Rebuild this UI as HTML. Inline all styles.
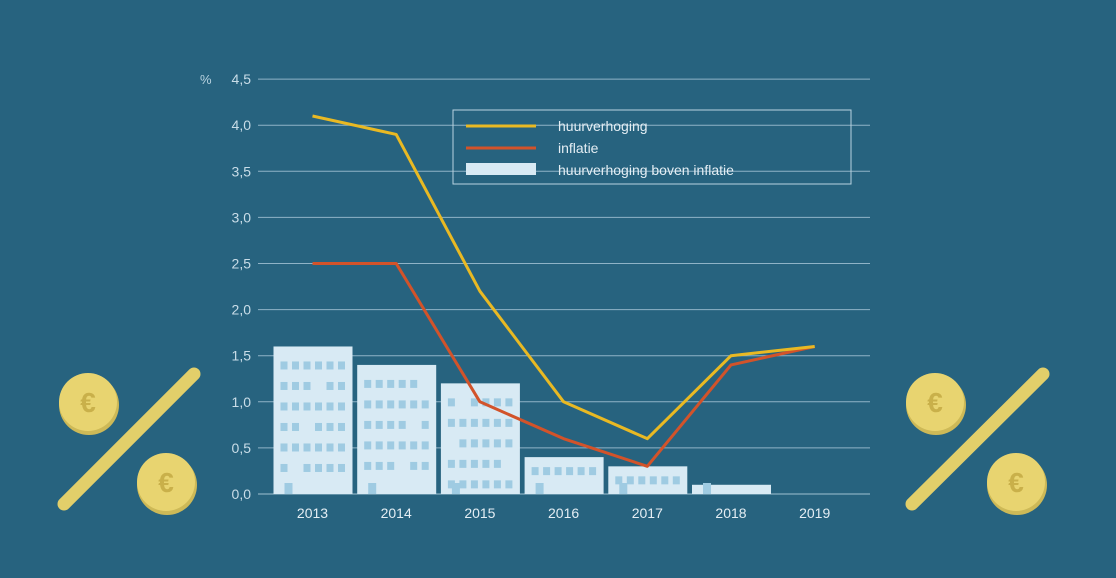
<!DOCTYPE html>
<html><head><meta charset="utf-8"><style>
html,body{margin:0;padding:0;background:#27637f;}
svg{display:block;font-family:"Liberation Sans",sans-serif;}
</style></head><body>
<svg id="chart" width="1116" height="578" viewBox="0 0 1116 578">
<rect width="1116" height="578" fill="#27637f"/>
<g id="grid"></g>
<g id="bars"></g>
<g id="lines"></g>
<g id="axes"></g>
<text x="200" y="84" fill="#b9d3e0" font-size="13">%</text>
<g>
<rect x="453" y="110" width="398" height="74" fill="none" stroke="#b9d3e0" stroke-width="1"/>
<line x1="466" y1="126" x2="536" y2="126" stroke="#e9b923" stroke-width="3"/>
<text x="558" y="131" fill="#e4eef4" font-size="14">huurverhoging</text>
<line x1="466" y1="148" x2="536" y2="148" stroke="#d2532a" stroke-width="3"/>
<text x="558" y="153" fill="#e4eef4" font-size="14">inflatie</text>
<rect x="466" y="163" width="70" height="12" fill="#d8eaf4"/>
<text x="558" y="175" fill="#e4eef4" font-size="14">huurverhoging boven inflatie</text>
</g>
<g>
<line x1="64" y1="504" x2="194" y2="374" stroke="#e2cf6a" stroke-width="13" stroke-linecap="round"/>
<circle cx="89" cy="405" r="30" fill="#cdb957"/><circle cx="88" cy="402" r="29" fill="#e8d470"/>
<text x="88" y="412" text-anchor="middle" font-size="28" font-weight="bold" fill="#c9b04a">€</text>
<circle cx="167" cy="485" r="30" fill="#cdb957"/><circle cx="166" cy="482" r="29" fill="#e8d470"/>
<text x="166" y="492" text-anchor="middle" font-size="28" font-weight="bold" fill="#c9b04a">€</text>
</g>
<g>
<line x1="912" y1="504" x2="1043" y2="374" stroke="#e2cf6a" stroke-width="13" stroke-linecap="round"/>
<circle cx="936" cy="405" r="30" fill="#cdb957"/><circle cx="935" cy="402" r="29" fill="#e8d470"/>
<text x="935" y="412" text-anchor="middle" font-size="28" font-weight="bold" fill="#c9b04a">€</text>
<circle cx="1017" cy="485" r="30" fill="#cdb957"/><circle cx="1016" cy="482" r="29" fill="#e8d470"/>
<text x="1016" y="492" text-anchor="middle" font-size="28" font-weight="bold" fill="#c9b04a">€</text>
</g>
</svg>
<script>
const years = ["2013","2014","2015","2016","2017","2018","2019"];
const huurverhoging = [4.1, 3.9, 2.2, 1.0, 0.6, 1.5, 1.6];
const inflatie = [2.5, 2.5, 1.0, 0.6, 0.3, 1.4, 1.6];
const bovenInflatie = [1.6, 1.4, 1.2, 0.4, 0.3, 0.1, 0];
const yTicks = [0, 0.5, 1, 1.5, 2, 2.5, 3, 3.5, 4, 4.5];
const yTickLabels = ["0,0","0,5","1,0","1,5","2,0","2,5","3,0","3,5","4,0","4,5"];

const NS = "http://www.w3.org/2000/svg";
const x0 = 312.5, step = 83.7, yBase = 494, yPerUnit = 92.2;
const xs = i => x0 + i * step;
const ys = v => yBase - v * yPerUnit;
function mk(tag, attrs, parent){const e=document.createElementNS(NS,tag);for(const k in attrs)e.setAttribute(k,attrs[k]);parent.appendChild(e);return e;}
const grid=document.getElementById('grid'), bars=document.getElementById('bars'), lines=document.getElementById('lines'), axes=document.getElementById('axes');

yTicks.forEach((t,i)=>{
  const l=mk('line',{x1:258,x2:870,y1:ys(t),y2:ys(t),stroke:i===0?'#9fc0d2':'#8fb3c7','stroke-width':1},grid);
  
  
  const tx=mk('text',{x:251,y:ys(t)+5,'text-anchor':'end','font-size':14,fill:'#c9dde8'},axes);
  tx.textContent=yTickLabels[i];
  
  
});
years.forEach((y,i)=>{
  const tx=mk('text',{x:xs(i),y:518,'text-anchor':'middle','font-size':14,fill:'#e4eef4'},axes);
  tx.textContent=y;
  
  
});
bovenInflatie.forEach((v,i)=>{
  if(v<=0) return;
  const g=mk('g',{},bars);
  
  
  const left=xs(i)-39, top=ys(v), h=yBase-top;
  mk('rect',{x:left,y:top,width:79,height:h,fill:'#d8eaf4'},g);
  for(let r=0;;r++){
    const wy=top+(h<60?10:15)+r*20.5;
    if(wy+8>yBase-4) break;
    for(let c=0;c<6;c++){
      if(h>=60 && (r*7+c*3+i)%11===5) continue;
      mk('rect',{x:left+7+c*11.5,y:wy,width:7,height:8,fill:'#9fcbe2'},g);
    }
  }
  mk('rect',{x:left+11,y:yBase-11,width:8,height:11,fill:'#9fcbe2'},g);
});
function drawLine(vals,color,name){
  const p=mk('polyline',{points:vals.map((v,i)=>xs(i)+','+ys(v)).join(' '),fill:'none',stroke:color,'stroke-width':3,'stroke-linejoin':'round'},lines);
  
  
}
drawLine(inflatie,'#d2532a','line-inflatie');
drawLine(huurverhoging,'#e9b923','line-huurverhoging');
</script>
</body></html>
